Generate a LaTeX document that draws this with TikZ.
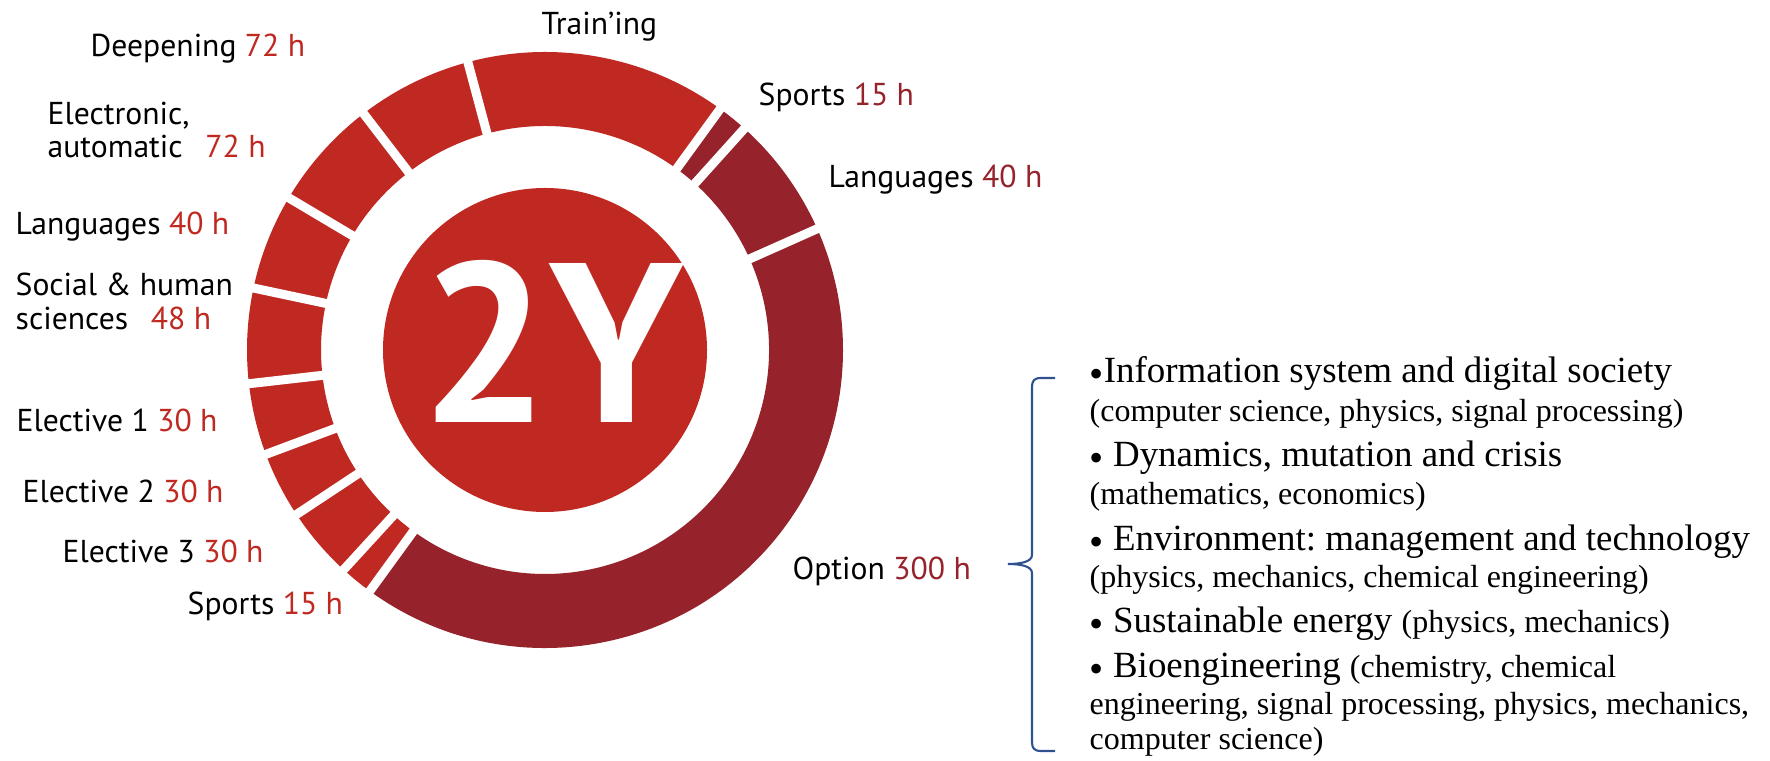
\documentclass[tikz,border=0pt]{standalone}
\usepackage{fontspec}
\setmainfont{Liberation Serif}
\newfontfamily\ringfont{PT Sans}
\usetikzlibrary{calc}
\definecolor{ringred}{RGB}{191,41,34}
\definecolor{ringdark}{RGB}{150,35,43}
\definecolor{bracecol}{RGB}{47,82,143}
\newcommand{\hrs}[1]{\textcolor{ringred}{#1}}
\newcommand{\hrsd}[1]{\textcolor{ringdark}{#1}}
\newcommand{\bul}{\raisebox{-1.2pt}{\fontsize{11.5}{12}\selectfont •}}
\newcommand{\ringpart}[3]{%
  \fill[#3] ($(c)+(#1:298)$) arc[start angle=#1,end angle=#2,radius=298]
    -- ($(c)+(#2:224)$) arc[start angle=#2,end angle=#1,radius=224] -- cycle;}
\newcommand{\ringgap}[1]{\draw[gapline] ($(c)+(#1:212)$) -- ($(c)+(#1:310)$);}
\tikzset{
  lbl/.style={font=\ringfont\fontsize{9}{10}\selectfont, anchor=base west, inner sep=0pt},
  bigitem/.style={font=\fontsize{10.5}{12}\selectfont, anchor=base west, inner sep=0pt},
  smallitem/.style={font=\fontsize{9.1}{11}\selectfont, anchor=base west, inner sep=0pt},
  gapline/.style={white, line width=0.09cm}
}

\begin{document}
\frenchspacing
\begin{tikzpicture}[x=0.01cm,y=0.01cm]
  \useasboundingbox (0,0) rectangle (1770,761);
  \coordinate (c) at (545,411);

  %Draw ring segments
  \ringpart{-126}{24}{ringdark}     % Option
  \ringpart{24}{48}{ringdark}       % Languages (right)
  \ringpart{48}{54}{ringdark}       % Sports (right)
  \ringpart{54}{105}{ringred}       % Training
  \ringpart{105}{127.5}{ringred}    % Deepening
  \ringpart{127.5}{149.3}{ringred}  % Electronic
  \ringpart{149.3}{168}{ringred}    % Languages (left)
  \ringpart{168}{186.5}{ringred}    % Social
  \ringpart{186.5}{200.5}{ringred}  % Elective 1
  \ringpart{200.5}{213.5}{ringred}  % Elective 2
  \ringpart{213.5}{227.5}{ringred}  % Elective 3
  \ringpart{227.5}{234}{ringred}    % Sports (left)

  %Draw white gaps between segments
  \foreach \a in {24,48,54,105,127.5,149.3,168,186.5,200.5,213.5,227.5,234}
    {\ringgap{\a}}

  %Draw center disc
  \fill[ringred] (c) circle (162);
  \node[text=white, inner sep=0pt, font=\ringfont\bfseries\fontsize{64.6}{66}\selectfont] (twoy) at (552,419.5) {2Y};

  %Draw ring labels
  \node[lbl] (train) at (541,726) {Train’ing};
  \node[lbl] (deep) at (90,704) {Deepening \hrs{72 h}};
  \node[lbl] (elecA) at (47,636) {Electronic,};
  \node[lbl] (elecB) at (47,603) {automatic\hspace{0.45em} \hrs{72 h}};
  \node[lbl] (langL) at (15,526) {Languages \hrs{40 h}};
  \node[lbl] (socA) at (15,465) {Social \& human};
  \node[lbl] (socB) at (15,431) {sciences\hspace{0.45em} \hrs{48 h}};
  \node[lbl] (elA) at (16,329) {Elective 1 \hrs{30 h}};
  \node[lbl] (elB) at (22,258) {Elective 2 \hrs{30 h}};
  \node[lbl] (elC) at (62,198) {Elective 3 \hrs{30 h}};
  \node[lbl] (sportL) at (187,146) {Sports \hrs{15 h}};
  \node[lbl] (sportR) at (758,655) {Sports \hrsd{15 h}};
  \node[lbl] (langR) at (828,573) {Languages \hrsd{40 h}};
  \node[lbl] (option) at (792,181) {Option \hrsd{300 h}};

  %Draw brace
  \coordinate (bracetop) at (1055,383);
  \coordinate (bracebot) at (1055,10);
  \coordinate (bracetip) at (1008,197);
  \draw[bracecol, line width=0.6pt] (bracetop) -- (1041,383)
    .. controls (1034,383) and (1032,380) .. (1032,374) -- (1032,206)
    .. controls (1032,199) and (1020,197) .. (bracetip)
    .. controls (1020,197) and (1032,195) .. (1032,188) -- (1032,19)
    .. controls (1032,13) and (1034,10) .. (1041,10) -- (bracebot);

  %Draw option list
  \node[bigitem] (itemA) at (1089,378) {\bul Information system and digital society};
  \node[smallitem] (itemAsub) at (1089,339) {(computer science, physics, signal processing)};
  \node[bigitem] (itemB) at (1089,294) {\bul\ Dynamics, mutation and crisis};
  \node[smallitem] (itemBsub) at (1089,256) {(mathematics, economics)};
  \node[bigitem] (itemC) at (1089,210) {\bul\ Environment: management and technology};
  \node[smallitem] (itemCsub) at (1089,173) {(physics, mechanics, chemical engineering)};
  \node[bigitem] (itemD) at (1089,128) {\bul\ Sustainable energy {\fontsize{9.1}{11}\selectfont (physics, mechanics)}};
  \node[bigitem] (itemE) at (1089,83) {\bul\ Bioengineering {\fontsize{9.1}{11}\selectfont (chemistry, chemical}};
  \node[smallitem] (itemEsubA) at (1089,46) {engineering, signal processing, physics, mechanics,};
  \node[smallitem] (itemEsubB) at (1089,11) {computer science)};
\end{tikzpicture}
\end{document}
